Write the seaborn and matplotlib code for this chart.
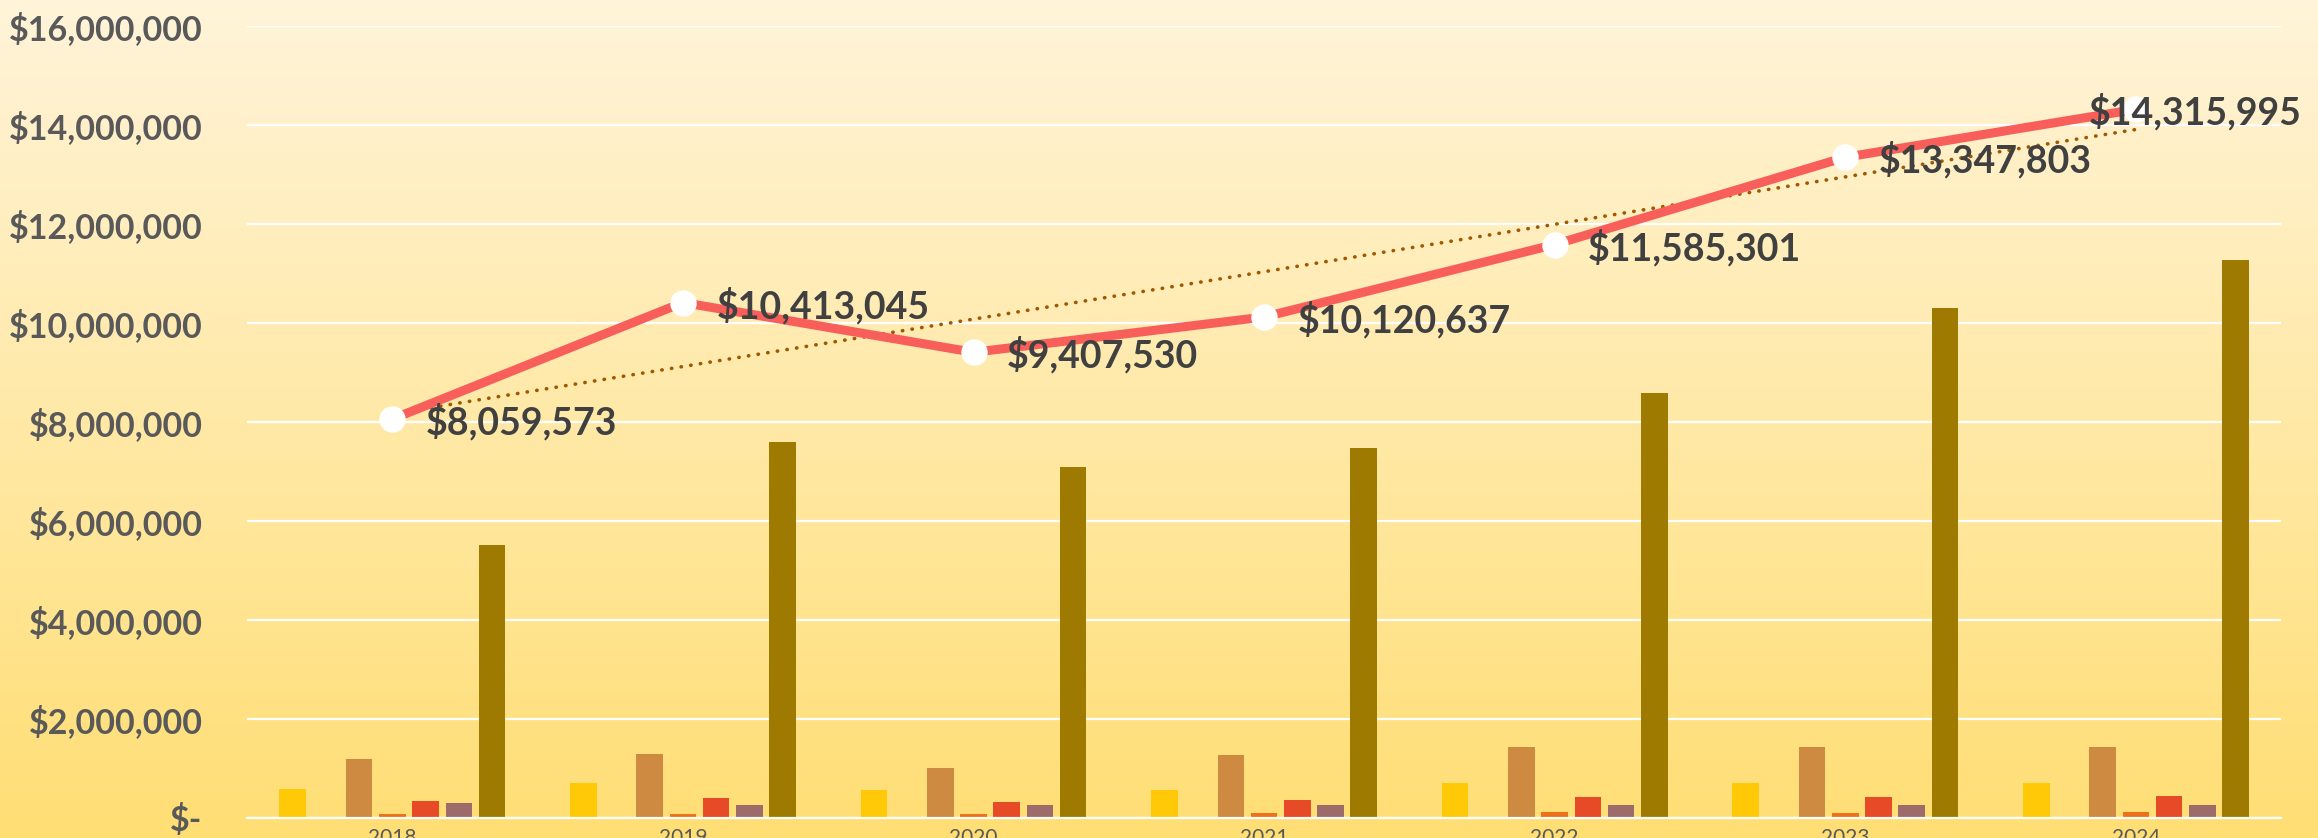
import numpy as np
import pandas as pd
import matplotlib
matplotlib.use("Agg")
import matplotlib.pyplot as plt
import matplotlib.ticker as mticker
from matplotlib.colors import LinearSegmentedColormap
import seaborn as sns

# data
years = ["2018", "2019", "2020", "2021", "2022", "2023", "2024"]
series_names = ["Series 1", "Series 2", "Series 3", "Series 4", "Series 5", "Series 6", "Series 7"]
series_1 = [594000, 700000, 570000, 572000, 710000, 712000, 712000]
series_2 = [0, 0, 0, 0, 0, 12000, 12000]
series_3 = [1200000, 1300000, 1000000, 1280000, 1430000, 1440000, 1440000]
series_4 = [75000, 80000, 80000, 100000, 115000, 110000, 120000]
series_5 = [337000, 410000, 320000, 360000, 430000, 430000, 450000]
series_6 = [297000, 260000, 260000, 260000, 255000, 255000, 255000]
series_7 = [5505000, 7596000, 7089000, 7477000, 8580000, 10310000, 11270000]
totals = [8059573, 10413045, 9407530, 10120637, 11585301, 13347803, 14315995]

bar_colors = ["#FFC907", "#EDBE6A", "#CE8A40", "#EE7018", "#E64A26", "#9E6B6B", "#9E7B00"]
line_color = "#F85F5A"
trend_color = "#A05800"

sns.set_style("white")
plt.rcParams["font.family"] = ["Lato", "DejaVu Sans"]

values = [series_1, series_2, series_3, series_4, series_5, series_6, series_7]
rows = []
for name, vals in zip(series_names, values):
    for y, v in zip(years, vals):
        rows.append({"year": y, "series": name, "value": v})
df = pd.DataFrame(rows)

fig = plt.figure(figsize=(23.18, 8.38), dpi=100)

# background gradient over the whole figure
bg = fig.add_axes([0, 0, 1, 1], zorder=-10)
cmap = LinearSegmentedColormap.from_list("bg", ["#FFF4DA", "#FFDE74"])
bg.imshow(np.linspace(0, 1, 256).reshape(-1, 1), cmap=cmap, aspect="auto", extent=[0, 1, 0, 1])
bg.axis("off")

ax = fig.add_axes([0.1066, 0.0239, 0.8775, 0.9451])
ax.patch.set_alpha(0)

sns.barplot(
    data=df,
    x="year",
    y="value",
    hue="series",
    hue_order=series_names,
    order=years,
    palette=bar_colors,
    saturation=1,
    width=0.8,
    gap=0.2,
    linewidth=0,
    legend=False,
    ax=ax,
)

# trend line (linear, like Excel)
xpos = np.arange(len(years))
sns.regplot(
    x=xpos, y=totals, ax=ax, scatter=False, ci=None, truncate=True,
    line_kws={"color": trend_color, "lw": 2.6, "linestyle": (0, (0.1, 2.6)),
              "dash_capstyle": "round", "zorder": 4},
)

# total line with white markers
sns.pointplot(
    x=years, y=totals, ax=ax, color=line_color, markers="", linewidth=6.5,
    errorbar=None,
)
ax.lines[-1].set_zorder(5)
sns.pointplot(
    x=years, y=totals, ax=ax, color="white", markers="o", linestyles="none",
    markersize=17, errorbar=None,
)
ax.lines[-1].set_zorder(6)

# data labels
for i, t in enumerate(totals):
    dx = 24 if i < len(totals) - 1 else -34
    ax.annotate(
        f"${t:,.0f}", xy=(i, t), xytext=(dx, -2), textcoords="offset points",
        ha="left", va="center", fontsize=27, fontweight="bold", color="#404040", zorder=7,
    )

ax.set_xlim(-0.5, len(years) - 0.5)
ax.set_ylim(0, 16000000)
ax.yaxis.set_major_locator(mticker.MultipleLocator(2000000))
ax.yaxis.set_major_formatter(
    mticker.FuncFormatter(lambda v, p: "$-" if v == 0 else f"${v:,.0f}")
)
ax.grid(axis="y", color="white", lw=1.6)
ax.set_axisbelow(True)
for s in ["top", "right", "left"]:
    ax.spines[s].set_visible(False)
ax.spines["bottom"].set_color("white")
ax.spines["bottom"].set_linewidth(1.6)

ax.tick_params(axis="y", length=0, pad=32, labelsize=24.5, labelcolor="#595959")
for lbl in ax.get_yticklabels():
    lbl.set_fontweight("bold")
ax.tick_params(axis="x", which="major", length=0, pad=7, labelsize=15, labelcolor="#595959")
ax.set_xticks(np.arange(-0.5, len(years), 1.0), minor=True)
ax.tick_params(axis="x", which="minor", length=16, width=1.6, color="white", direction="out")
ax.set_xlabel("")
ax.set_ylabel("")

fig.savefig("out.png", dpi=100)
